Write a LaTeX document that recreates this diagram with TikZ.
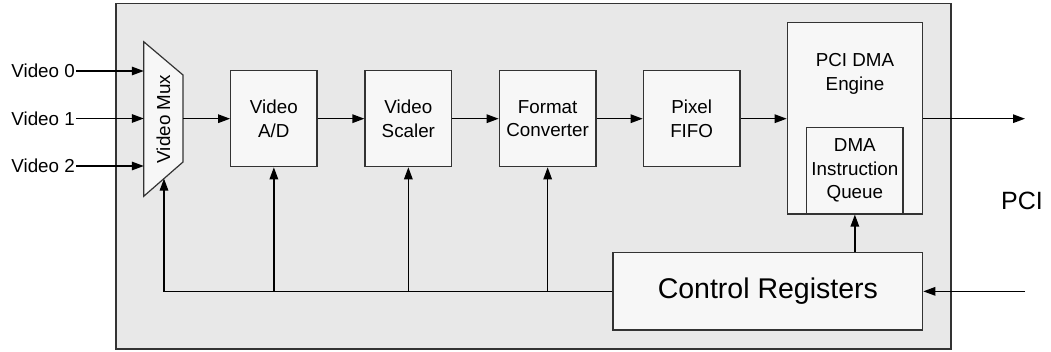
\documentclass[tikz,border=0pt]{standalone}
\usepackage{fontspec}
\setmainfont{Liberation Sans}
\usetikzlibrary{arrows.meta,calc}
\definecolor{chipbg}{HTML}{E8E8E8}
\definecolor{boxbg}{HTML}{F7F7F7}
\definecolor{edgec}{HTML}{333333}
\begin{document}
\begin{tikzpicture}[x=1pt,y=-1pt,
  blk/.style={draw=edgec,line width=1.2pt,fill=boxbg,inner sep=0pt,align=center,
    font=\fontsize{18.8}{23.5}\selectfont},
  txt/.style={inner sep=1pt,align=center,font=\fontsize{18.8}{23.5}\selectfont},
  wire/.style={line width=1.4pt,draw=black,-{Triangle[length=12pt,width=8.5pt]}},
  bus/.style={line width=1.4pt,draw=black}]
\useasboundingbox (0,0) rectangle (1051,352);

% board outline
\path[draw=edgec,line width=1.2pt,fill=chipbg] (116,3.3) rectangle (951,349);

% video multiplexer
\node[inner sep=0pt,minimum width=39pt,minimum height=154pt] (mux) at (163.5,119) {};
\path[draw=edgec,line width=1.2pt,fill=boxbg]
  (mux.north west) -- (183,75) -- (183,162) -- (mux.south west) -- cycle;
\node[txt,rotate=90] (muxlbl) at (mux.center) {Video Mux};
\coordinate (muxout) at (183,118.7);
\coordinate (muxsel) at (164,178.6);

% input labels
\node[txt,anchor=east] (v0) at (76,71) {Video 0};
\node[txt,anchor=east] (v1) at (76,118.5) {Video 1};
\node[txt,anchor=east] (v2) at (76,166) {Video 2};

% processing chain
\node[blk,minimum width=86.3pt,minimum height=96pt] (ad)   at (273.85,118.7) {Video\\A/D};
\node[blk,minimum width=86.7pt,minimum height=96pt] (sc)   at (408.35,118.7) {Video\\Scaler};
\node[blk,minimum width=96.7pt,minimum height=96pt] (fc)   at (547.65,118.7) {Format\\Converter};
\node[blk,minimum width=96.7pt,minimum height=96pt] (fifo) at (691.65,118.7) {Pixel\\FIFO};

% PCI DMA engine with its instruction queue
\node[blk,minimum width=135.4pt,minimum height=191.3pt] (dma) at (855,118.35) {};
\node[txt] (dmalbl) at (855,74) {PCI DMA\\Engine};
\node[blk,minimum width=96.3pt,minimum height=86.7pt] (q) at (854.85,170.65) {DMA\\Instruction\\Queue};

% control registers
\node[blk,minimum width=309.7pt,minimum height=77.3pt,font=\fontsize{28.5}{34}\selectfont]
  (cr) at (767.85,291.35) {Control Registers};

% external PCI side
\node[inner sep=0pt,font=\fontsize{25}{30}\selectfont] (pci) at (1022,201) {PCI};
\coordinate (pciout) at (1025,118.7);
\coordinate (pciin) at (1025,291.35);

% data path
\draw[wire] (v0.east) -- (v0.east -| mux.west);
\draw[wire] (v1.east) -- (v1.east -| mux.west);
\draw[wire] (v2.east) -- (v2.east -| mux.west);
\draw[wire] (muxout) -- (ad.west);
\draw[wire] (ad.east) -- (sc.west);
\draw[wire] (sc.east) -- (fc.west);
\draw[wire] (fc.east) -- (fifo.west);
\draw[wire] (fifo.east) -- (fifo.east -| dma.west);
\draw[wire] (dma.east |- fifo.east) -- (pciout);

% control path
\draw[wire] (pciin) -- (cr.east);
\draw[wire] (q.south |- cr.north) -- (q.south);
\draw[wire] (cr.west) -| (muxsel);
\draw[wire] (ad.south |- cr.west) -- (ad.south);
\draw[wire] (sc.south |- cr.west) -- (sc.south);
\draw[wire] (fc.south |- cr.west) -- (fc.south);
\end{tikzpicture}
\end{document}
